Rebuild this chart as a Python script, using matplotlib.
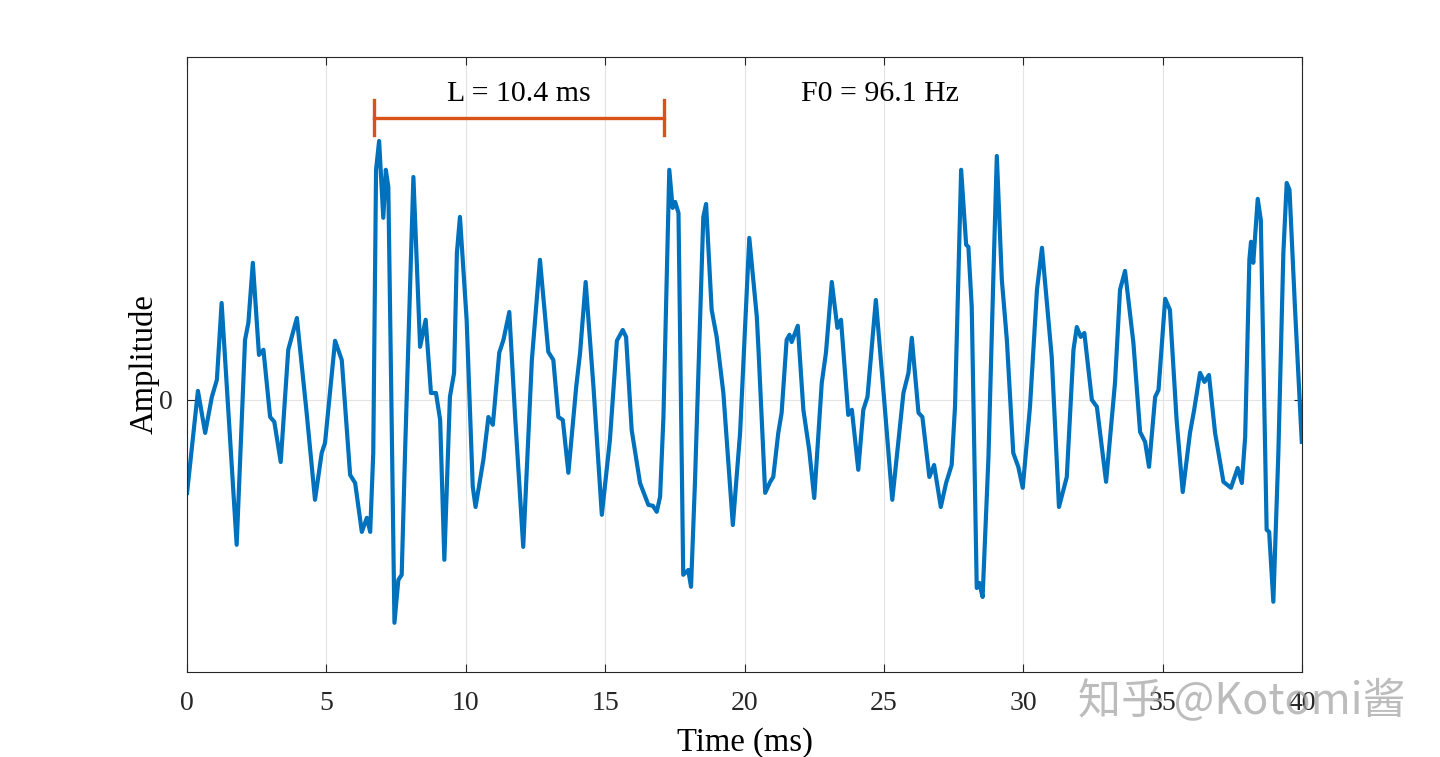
import numpy as np
import matplotlib.pyplot as plt

# time (ms) and amplitude
t_ms = [0.00, 0.39, 0.65, 0.89, 1.07, 1.24, 1.78, 2.08, 2.20, 2.36,
        2.58, 2.74, 2.98, 3.13, 3.36, 3.63, 3.94, 4.29, 4.59, 4.83,
        4.95, 5.31, 5.55, 5.85, 6.03, 6.27, 6.45, 6.57, 6.68, 6.78,
        6.89, 7.04, 7.13, 7.22, 7.34, 7.44, 7.58, 7.70, 7.82, 8.12,
        8.36, 8.56, 8.75, 8.93, 9.08, 9.23, 9.43, 9.58, 9.68, 9.79,
        10.03, 10.25, 10.35, 10.63, 10.81, 10.97, 11.20, 11.35, 11.56, 11.77,
        12.06, 12.37, 12.66, 12.96, 13.14, 13.32, 13.48, 13.68, 13.96, 14.10,
        14.30, 14.58, 14.88, 15.17, 15.42, 15.63, 15.75, 15.95, 16.25, 16.55,
        16.71, 16.85, 16.97, 17.09, 17.30, 17.42, 17.51, 17.63, 17.80, 17.98,
        18.08, 18.22, 18.52, 18.62, 18.82, 19.00, 19.24, 19.58, 19.84, 20.17,
        20.44, 20.50, 20.74, 20.92, 21.03, 21.21, 21.33, 21.51, 21.61, 21.69,
        21.91, 22.11, 22.32, 22.50, 22.77, 22.92, 23.13, 23.33, 23.46, 23.72,
        23.85, 24.08, 24.26, 24.41, 24.71, 24.98, 25.30, 25.70, 25.88, 26.00,
        26.24, 26.38, 26.63, 26.80, 27.04, 27.23, 27.43, 27.55, 27.77, 27.95,
        28.03, 28.15, 28.33, 28.42, 28.54, 28.75, 28.93, 29.05, 29.23, 29.41,
        29.64, 29.82, 29.98, 30.24, 30.49, 30.67, 31.02, 31.28, 31.56, 31.80,
        31.92, 32.06, 32.19, 32.46, 32.64, 32.97, 33.29, 33.47, 33.65, 33.95,
        34.19, 34.37, 34.51, 34.73, 34.85, 35.09, 35.26, 35.50, 35.72, 35.98,
        36.13, 36.34, 36.50, 36.66, 36.88, 37.18, 37.45, 37.69, 37.84, 37.96,
        38.11, 38.17, 38.25, 38.41, 38.52, 38.73, 38.82, 38.97, 39.15, 39.33,
        39.45, 39.55, 39.75, 39.99]
amp = [-0.310, 0.030, -0.110, 0.010, 0.067, 0.323, -0.483, 0.200, 0.257, 0.457,
       0.150, 0.167, -0.057, -0.073, -0.207, 0.167, 0.273, -0.043, -0.333, -0.177,
       -0.143, 0.197, 0.133, -0.250, -0.277, -0.440, -0.393, -0.440, -0.177, 0.767,
       0.863, 0.607, 0.767, 0.710, -0.067, -0.743, -0.600, -0.583, -0.177, 0.743,
       0.177, 0.267, 0.023, 0.023, -0.067, -0.533, 0.010, 0.090, 0.490, 0.610,
       0.267, -0.290, -0.357, -0.200, -0.057, -0.083, 0.157, 0.200, 0.293, -0.057,
       -0.490, 0.133, 0.467, 0.160, 0.133, -0.057, -0.067, -0.243, 0.043, 0.157,
       0.393, 0.043, -0.383, -0.133, 0.197, 0.233, 0.210, -0.100, -0.277, -0.350,
       -0.353, -0.373, -0.323, -0.057, 0.767, 0.640, 0.660, 0.623, -0.583, -0.567,
       -0.623, -0.277, 0.610, 0.653, 0.300, 0.210, 0.023, -0.417, -0.110, 0.540,
       0.277, 0.167, -0.310, -0.273, -0.257, -0.110, -0.043, 0.200, 0.217, 0.193,
       0.247, -0.033, -0.167, -0.327, 0.057, 0.157, 0.393, 0.240, 0.267, -0.050,
       -0.033, -0.233, -0.033, 0.010, 0.333, 0.033, -0.333, 0.023, 0.090, 0.207,
       -0.043, -0.057, -0.257, -0.217, -0.357, -0.277, -0.217, -0.023, 0.767, 0.517,
       0.510, 0.310, -0.627, -0.610, -0.657, -0.190, 0.423, 0.813, 0.400, 0.200,
       -0.177, -0.223, -0.293, -0.023, 0.367, 0.507, 0.143, -0.357, -0.257, 0.167,
       0.243, 0.210, 0.223, 0.000, -0.023, -0.273, 0.057, 0.367, 0.430, 0.190,
       -0.107, -0.140, -0.223, 0.010, 0.033, 0.337, 0.300, -0.067, -0.307, -0.110,
       -0.033, 0.090, 0.060, 0.083, -0.110, -0.273, -0.293, -0.227, -0.277, -0.123,
       0.467, 0.527, 0.457, 0.670, 0.600, -0.433, -0.440, -0.673, -0.177, 0.490,
       0.723, 0.700, 0.300, -0.140]

period_start = 6.7   # ms
period_len = 10.4    # ms
f0 = 96.1            # Hz
x_ticks = [0, 5, 10, 15, 20, 25, 30, 35, 40]

plt.rcParams['font.family'] = ['Liberation Serif']

fig = plt.figure(figsize=(14.4, 7.57), dpi=100)
ax = fig.add_axes([0.1299, 0.1123, 0.7743, 0.8124])

ax.plot(t_ms, amp, color='#0072BD', lw=3.0, solid_joinstyle='round')

# period bracket
yb = 0.94
ax.plot([period_start, period_start + period_len], [yb, yb], color='#D95319', lw=2.4)
ax.plot([period_start, period_start], [0.883, 1.0], color='#D95319', lw=2.4)
ax.plot([period_start + period_len] * 2, [0.883, 1.0], color='#D95319', lw=2.4)
ax.text(period_start + period_len / 2, 1.02, 'L = %.1f ms' % period_len,
        ha='center', va='center', fontsize=21.5)
ax.text(24.86, 1.02, 'F0 = %.1f Hz' % f0, ha='center', va='center', fontsize=21.5)

ax.set_xlim(0, 40)
ax.set_ylim(-0.907, 1.143)
ax.set_xticks(x_ticks)
ax.set_yticks([0])
ax.grid(True, color='#e3e3e3', lw=0.8)
ax.set_axisbelow(True)
ax.tick_params(direction='in', top=True, right=True, labelsize=20,
               length=6, width=0.8, colors='#262626')
ax.tick_params(axis='x', pad=14)
ax.tick_params(axis='y', pad=10)
for s in ax.spines.values():
    s.set_color('#262626')
    s.set_linewidth(0.8)

ax.set_xlabel('Time (ms)', fontsize=23.5, labelpad=8)
ax.set_ylabel('Amplitude', fontsize=23.5, labelpad=0)

# watermark
fig.text(0.976, 0.073, '知乎 @Kotomi酱', ha='right', va='center', fontsize=31,
         color='#a0a0a0', alpha=0.7,
         family=['Noto Sans CJK SC', 'DejaVu Sans'])

fig.savefig('out.png', dpi=100)
